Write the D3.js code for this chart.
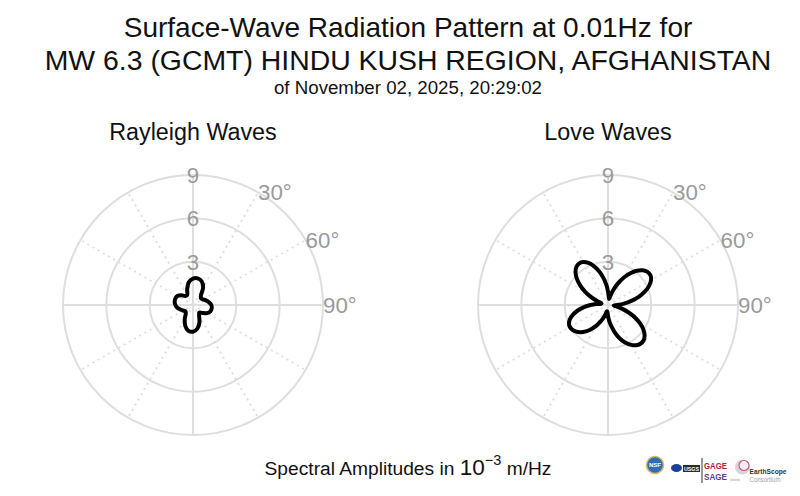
<!DOCTYPE html>
<html><head><meta charset="utf-8">
<script src="https://cdn.jsdelivr.net/npm/d3@7/dist/d3.min.js"></script>
<style>
body{margin:0;background:#fff}
svg{display:block}
text{font-family:"Liberation Sans",Arial,Helvetica,sans-serif}
</style>
</head><body>
<svg id="chart" width="800" height="496"></svg>
<script>
// ---------- data ----------
const rayleighAz = d3.range(0, 360, 10); // degrees, clockwise from north
const rayleighAmp = [1.83,1.87,1.75,1.40,0.85,0.72,0.78,0.95,1.12,1.27,1.32,1.28,
                     1.12,0.85,0.68,0.85,1.30,1.68,1.85,1.82,1.55,1.15,0.78,0.68,
                     0.78,0.92,1.10,1.22,1.29,1.30,1.24,1.05,0.82,0.80,1.18,1.62];
const loveAz = d3.range(0, 360, 5);
const loveAmp = [0.95,0.57,0.42,0.71,1.16,1.67,2.20,2.69,3.10,3.40,3.57,3.59,
                 3.44,3.14,2.71,2.20,1.64,1.11,0.66,0.40,
                 0.63,1.03,1.52,2.08,2.58,3.00,3.31,3.48,3.50,3.40,3.19,2.88,2.50,2.06,1.57,1.15,0.77,0.49,
                 0.44,0.65,0.96,1.31,1.69,2.05,2.38,2.66,2.87,3.00,3.05,2.98,2.79,2.49,2.10,1.67,1.22,0.81,0.50,
                 0.46,0.81,1.29,1.82,2.34,2.81,3.18,3.42,3.50,3.43,3.21,2.87,2.44,1.94,1.43];
const radialTicks = [3, 6, 9];
const radialMax = 9;
const angleTickValues = [30, 60, 90];
const angleTickLabels = ["30°", "60°", "90°"];
const spokeAngles = d3.range(0, 360, 30);
const panelTitles = ["Rayleigh Waves", "Love Waves"];
const titleLines = ["Surface-Wave Radiation Pattern at 0.01Hz for",
                    "MW 6.3 (GCMT) HINDU KUSH REGION, AFGHANISTAN",
                    "of November 02, 2025, 20:29:02"];

// ---------- drawing ----------
const svg = d3.select("#chart");
const W = 800, H = 496;
svg.append("rect").attr("width", W).attr("height", H).attr("fill", "#fff");

const R = 130;
const rScale = d3.scaleLinear().domain([0, radialMax]).range([0, R]);
const toRad = d => d * Math.PI / 180;
const gridColor = "#dedede";
const tickColor = "#9a9a9a";

function polarPanel(cx, cy, az, values, title) {
  const g = svg.append("g").attr("transform", `translate(${cx},${cy})`);
  spokeAngles.filter(a => a % 90 !== 0).forEach(a => {
    const x = rScale(radialMax) * Math.sin(toRad(a)), y = -rScale(radialMax) * Math.cos(toRad(a));
    g.append("line").attr("x1", 0).attr("y1", 0).attr("x2", x).attr("y2", y)
      .attr("stroke", gridColor).attr("stroke-width", 2).attr("stroke-dasharray", "2,4");
  });
  [0, 90].forEach(a => {
    const x = rScale(radialMax) * Math.sin(toRad(a)), y = -rScale(radialMax) * Math.cos(toRad(a));
    g.append("line").attr("x1", -x).attr("y1", -y).attr("x2", x).attr("y2", y)
      .attr("stroke", gridColor).attr("stroke-width", 2);
  });
  radialTicks.forEach(t => {
    g.append("circle").attr("r", rScale(t)).attr("fill", "none")
      .attr("stroke", gridColor).attr("stroke-width", 2);
  });
  radialTicks.forEach(t => {
    g.append("text").attr("x", 0).attr("y", -rScale(t)).attr("dy", "0.36em")
      .attr("text-anchor", "middle").attr("font-size", 22.3).attr("fill", tickColor).text(t);
  });
  angleTickValues.forEach((a, i) => {
    const x = rScale(radialMax) * Math.sin(toRad(a)), y = -rScale(radialMax) * Math.cos(toRad(a));
    g.append("text").attr("x", x).attr("y", y).attr("dy", "0.36em")
      .attr("text-anchor", "start").attr("font-size", 22.3).attr("fill", tickColor).text(angleTickLabels[i]);
  });
  const line = d3.lineRadial()
    .angle((d, i) => toRad(az[i]))
    .radius(d => rScale(d))
    .curve(d3.curveCatmullRomClosed.alpha(0.5));
  g.append("path").attr("d", line(values)).attr("fill", "none")
    .attr("stroke", "#000").attr("stroke-width", 4).attr("stroke-linejoin", "round");
  svg.append("text").attr("x", cx).attr("y", 139.5).attr("text-anchor", "middle")
    .attr("font-size", 23.3).attr("fill", "#111").text(title);
}

polarPanel(193, 305, rayleighAz, rayleighAmp, panelTitles[0]);
polarPanel(608, 305, loveAz, loveAmp, panelTitles[1]);

// main title
const tcx = 408;
svg.append("text").attr("x", tcx).attr("y", 37).attr("text-anchor", "middle")
  .attr("font-size", 28).attr("fill", "#111").text(titleLines[0]);
svg.append("text").attr("x", tcx).attr("y", 70).attr("text-anchor", "middle")
  .attr("font-size", 28.4).attr("fill", "#111").text(titleLines[1]);
svg.append("text").attr("x", tcx).attr("y", 94).attr("text-anchor", "middle")
  .attr("font-size", 18.7).attr("fill", "#111").text(titleLines[2]);

// bottom axis caption
const cap = svg.append("text").attr("x", tcx).attr("y", 475).attr("text-anchor", "middle")
  .attr("font-size", 19.2).attr("fill", "#111");
cap.append("tspan").text("Spectral Amplitudes in ");
cap.append("tspan").attr("font-size", 22.5).text("10");
cap.append("tspan").attr("font-size", 14.5).attr("dy", -10).text("−3");
cap.append("tspan").attr("dy", 10).text(" m/Hz");

// logos (approximate)
const lg = svg.append("g");
lg.append("circle").attr("cx", 655).attr("cy", 465).attr("r", 8.5).attr("fill", "#2f6db8").attr("stroke", "#d9b85a").attr("stroke-width", 1.5);
lg.append("text").attr("x", 655).attr("y", 467).attr("text-anchor", "middle").attr("font-size", 6).attr("font-weight", "bold").attr("fill", "#fff").text("NSF");
lg.append("ellipse").attr("cx", 676.5).attr("cy", 468).attr("rx", 5.5).attr("ry", 4).attr("fill", "#1d3f95");
lg.append("rect").attr("x", 683).attr("y", 465).attr("width", 17).attr("height", 7).attr("fill", "#2b2b2b");
lg.append("text").attr("x", 691.5).attr("y", 471).attr("text-anchor", "middle").attr("font-size", 6)
  .attr("textLength", 15).attr("lengthAdjust", "spacingAndGlyphs").attr("font-weight", "bold").attr("fill", "#fff").text("USGS");
lg.append("line").attr("x1", 702).attr("x2", 702).attr("y1", 458).attr("y2", 483).attr("stroke", "#333").attr("stroke-width", 1);
lg.append("text").attr("x", 704).attr("y", 469).attr("font-size", 9).attr("textLength", 23).attr("lengthAdjust", "spacingAndGlyphs")
  .attr("font-weight", "bold").attr("fill", "#b3203c").text("GAGE");
lg.append("text").attr("x", 704).attr("y", 480).attr("font-size", 9).attr("textLength", 23).attr("lengthAdjust", "spacingAndGlyphs")
  .attr("font-weight", "bold").attr("fill", "#5b3c8c").text("SAGE");
lg.append("circle").attr("cx", 742.5).attr("cy", 467).attr("r", 7.5).attr("fill", "#d4d4dc");
lg.append("circle").attr("cx", 744).attr("cy", 465.5).attr("r", 5).attr("fill", "#eef0f6").attr("stroke", "#d65a6a").attr("stroke-width", 1.2);
lg.append("text").attr("x", 730).attr("y", 481).attr("font-size", 3.5).attr("textLength", 10).attr("lengthAdjust", "spacingAndGlyphs")
  .attr("fill", "#888").text("Operated by");
lg.append("text").attr("x", 749.5).attr("y", 474).attr("font-size", 8).attr("textLength", 37).attr("lengthAdjust", "spacingAndGlyphs")
  .attr("font-weight", "bold").attr("fill", "#333").text("EarthScope");
lg.append("text").attr("x", 749.5).attr("y", 481.5).attr("font-size", 7).attr("textLength", 31).attr("lengthAdjust", "spacingAndGlyphs")
  .attr("fill", "#a0a0a0").text("Consortium");
</script>
</body></html>
